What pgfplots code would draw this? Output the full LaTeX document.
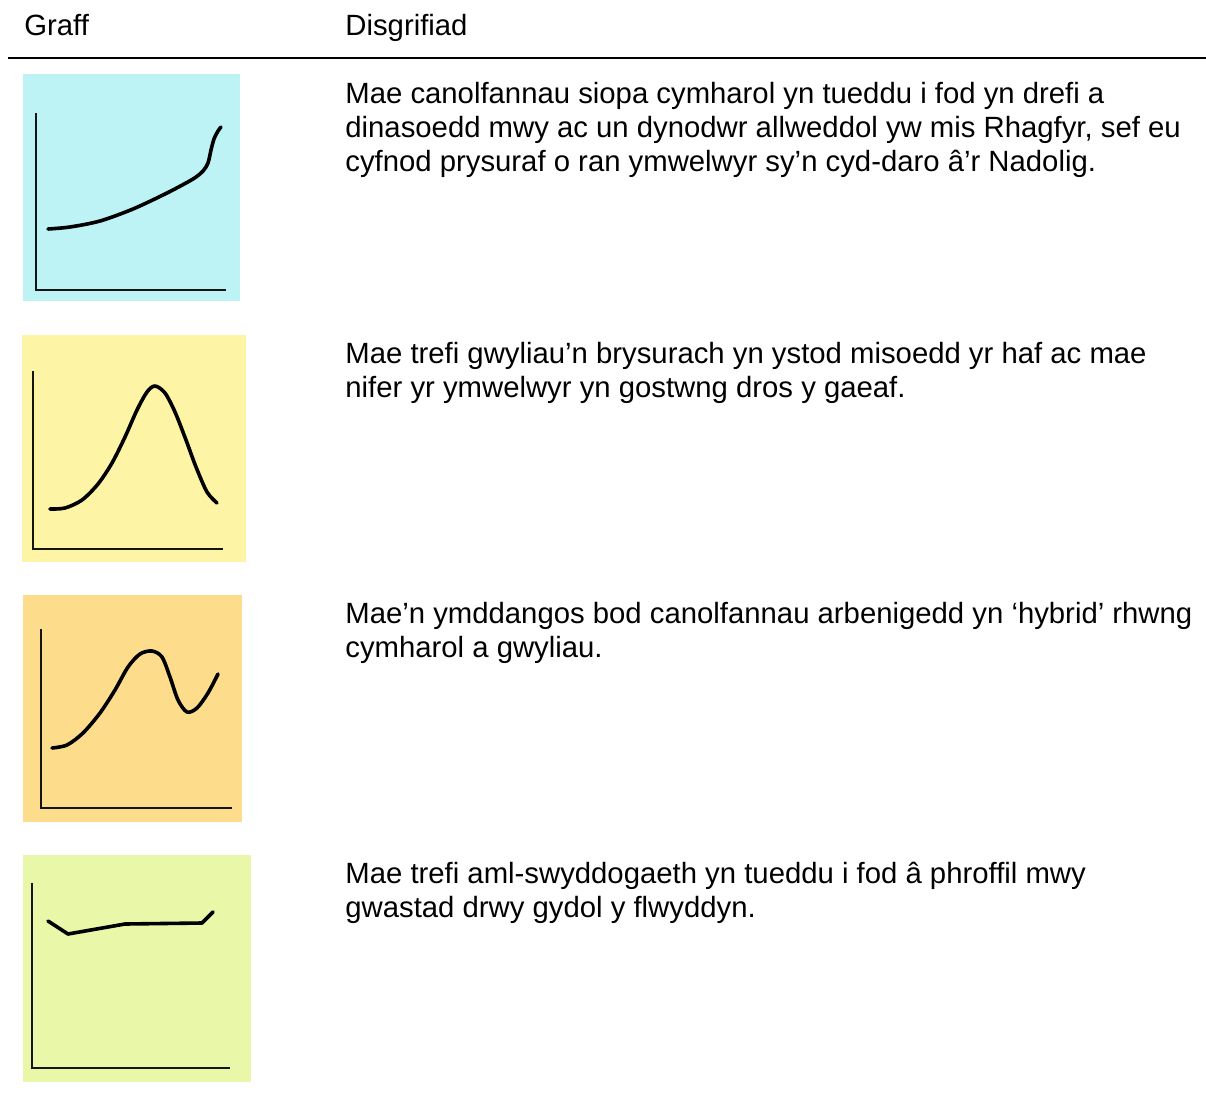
\documentclass[border=0pt]{standalone}
\usepackage{fontspec}
\setmainfont{Liberation Sans}
\usepackage{pgfplots}
\pgfplotsset{compat=1.18}
\definecolor{bgA}{RGB}{190,243,245}
\definecolor{bgB}{RGB}{253,244,166}
\definecolor{bgC}{RGB}{253,220,140}
\definecolor{bgD}{RGB}{233,247,169}
\definecolor{ink}{RGB}{20,20,20}
\pgfplotsset{
  panel/.style={scale only axis, anchor=north west, y dir=reverse,
    axis lines=none, xtick=\empty, ytick=\empty, clip=false},
  axl/.style={ink, line width=1.3pt, no markers, line join=miter},
  crv/.style={black, line width=1.8pt, no markers, line cap=round, line join=round},
}
\begin{document}
\begin{tikzpicture}
\useasboundingbox[fill=white] (0pt,0pt) rectangle (603pt,-546.5pt);
\fontsize{14.65pt}{17pt}\selectfont
\node[anchor=base west, inner sep=0pt] at (12pt,-17.5pt) {Graff};
\node[anchor=base west, inner sep=0pt] at (172.5pt,-17.5pt) {Disgrifiad};
\draw[line width=1pt] (4pt,-28.75pt) -- (603pt,-28.75pt);

\node[anchor=base west, inner sep=0pt] at (172.5pt,-51.5pt) {Mae canolfannau siopa cymharol yn tueddu i fod yn drefi a};
\node[anchor=base west, inner sep=0pt] at (172.5pt,-68.5pt) {dinasoedd mwy ac un dynodwr allweddol yw mis Rhagfyr, sef eu};
\node[anchor=base west, inner sep=0pt] at (172.5pt,-85.5pt) {cyfnod prysuraf o ran ymwelwyr sy’n cyd-daro â’r Nadolig.};

\node[anchor=base west, inner sep=0pt] at (172.5pt,-181.5pt) {Mae trefi gwyliau’n brysurach yn ystod misoedd yr haf ac mae};
\node[anchor=base west, inner sep=0pt] at (172.5pt,-198.5pt) {nifer yr ymwelwyr yn gostwng dros y gaeaf.};

\node[anchor=base west, inner sep=0pt] at (172.5pt,-311.5pt) {Mae’n ymddangos bod canolfannau arbenigedd yn ‘hybrid’ rhwng};
\node[anchor=base west, inner sep=0pt] at (172.5pt,-328.5pt) {cymharol a gwyliau.};

\node[anchor=base west, inner sep=0pt] at (172.5pt,-441.5pt) {Mae trefi aml-swyddogaeth yn tueddu i fod â phroffil mwy};
\node[anchor=base west, inner sep=0pt] at (172.5pt,-458.5pt) {gwastad drwy gydol y flwyddyn.};

% Panel 1
\begin{axis}[panel, at={(11.5pt,-37pt)}, width=108.5pt, height=113.5pt,
  xmin=23, xmax=240, ymin=74, ymax=301, axis background/.style={fill=bgA}]
\addplot[axl] coordinates {(36,113) (36,290) (226,290)};
\addplot[crv, smooth] coordinates {(48,229) (70,227) (100,221) (133,209) (167,193) (193,179) (203,171) (208,163) (211,150) (214,139) (218,131) (221,127)};
\end{axis}

% Panel 2
\begin{axis}[panel, at={(11pt,-167.5pt)}, width=112pt, height=113.5pt,
  xmin=22, xmax=246, ymin=335, ymax=562, axis background/.style={fill=bgB}]
\addplot[axl] coordinates {(33,371) (33,549) (223,549)};
\addplot[crv, smooth] coordinates {(50,509) (65,508) (82,500) (98,484) (112,463) (125,437) (137,410) (147,392) (155,386) (165,393) (175,412) (186,440) (196,467) (207,492) (217,503)};
\end{axis}

% Panel 3
\begin{axis}[panel, at={(11.5pt,-297.5pt)}, width=109.5pt, height=113.5pt,
  xmin=23, xmax=242, ymin=595, ymax=822, axis background/.style={fill=bgC}]
\addplot[axl] coordinates {(41,629) (41,808) (232,808)};
\addplot[crv, smooth] coordinates {(52,748) (67,745) (83,733) (100,713) (115,690) (128,667) (140,654) (152,651) (162,657) (170,677) (178,700) (187,712) (197,708) (208,693) (218,674)};
\end{axis}

% Panel 4
\begin{axis}[panel, at={(11.5pt,-427.5pt)}, width=114pt, height=113.5pt,
  xmin=23, xmax=251, ymin=855, ymax=1082, axis background/.style={fill=bgD}]
\addplot[axl] coordinates {(32,883) (32,1068) (230,1068)};
\addplot[crv] coordinates {(48,921) (68,934) (125,924) (202,923) (213,912)};
\end{axis}
\end{tikzpicture}
\end{document}
